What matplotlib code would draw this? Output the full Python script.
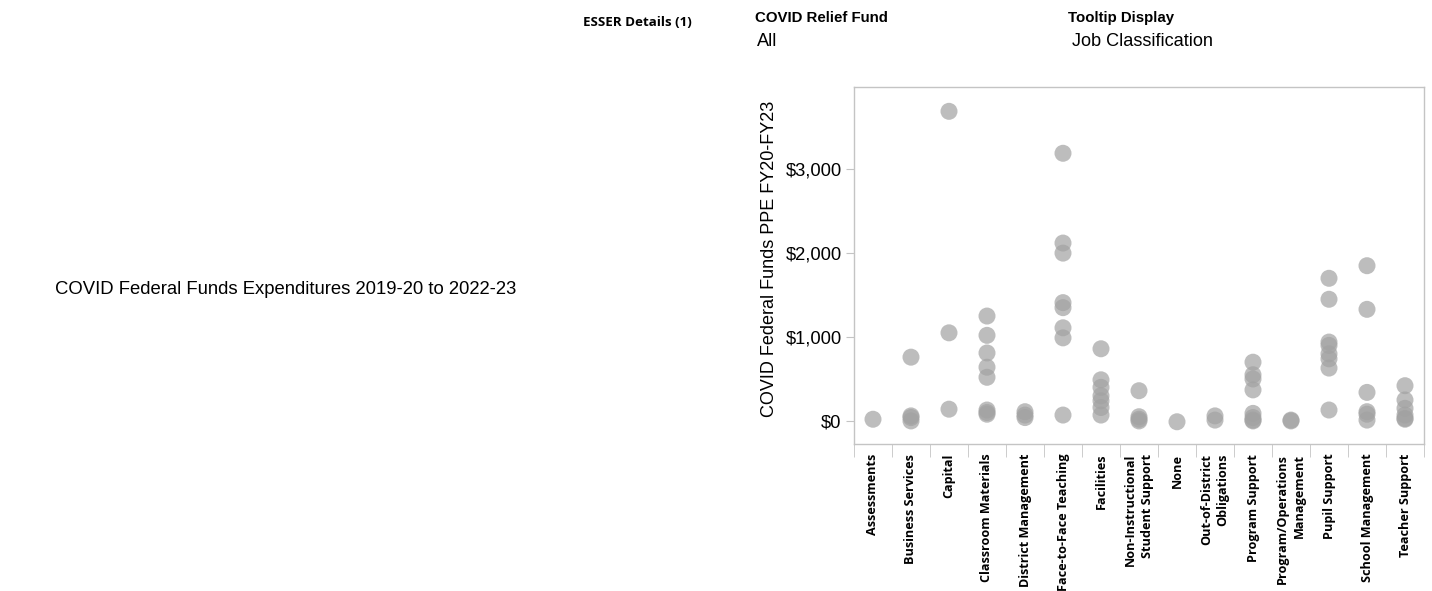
import matplotlib
matplotlib.use("Agg")
import matplotlib.pyplot as plt
import numpy as np

categories = ["Assessments", "Business Services", "Capital", "Classroom Materials",
              "District Management", "Face-to-Face Teaching", "Facilities",
              "Non-Instructional\nStudent Support", "None", "Out-of-District\nObligations",
              "Program Support", "Program/Operations\nManagement", "Pupil Support",
              "School Management", "Teacher Support"]

values = [
    [20],
    [760, 60, 40, 0],
    [3690, 1050, 140],
    [1250, 1020, 810, 640, 520, 130, 100, 80],
    [110, 70, 40],
    [3190, 2120, 2000, 1410, 1350, 1110, 990, 70],
    [860, 490, 400, 300, 240, 160, 70],
    [360, 50, 20, 0],
    [-10],
    [60, 10],
    [700, 550, 500, 370, 90, 40, 10, 0],
    [10, 0],
    [1700, 1450, 940, 900, 800, 740, 630, 130],
    [1850, 1330, 340, 110, 80, 10],
    [420, 250, 150, 70, 30, 20],
]

yticks = [0, 1000, 2000, 3000]
ytick_labels = ["$0", "$1,000", "$2,000", "$3,000"]

W, H = 1432, 591
fig = plt.figure(figsize=(W / 100, H / 100), dpi=100)

ax = fig.add_axes([854 / W, (H - 444) / H, 570 / W, (444 - 87) / H])

for i, vals in enumerate(values):
    ax.scatter([i] * len(vals), vals, s=150, color="#a2a2a2", alpha=0.7,
               edgecolors="none", zorder=3)

ax.set_xlim(-0.5, len(categories) - 0.5)
ax.set_ylim(-275, 3980)

for sp in ax.spines.values():
    sp.set_color("#c4c4c4")
    sp.set_linewidth(1.0)

ax.set_yticks(yticks)
ax.set_yticklabels(ytick_labels, fontfamily="Liberation Sans", fontsize=13.2)
ax.tick_params(axis="y", length=6, color="#c4c4c4", pad=3)

ax.set_xticks(np.arange(len(categories)))
ax.set_xticklabels(categories, rotation=90, fontfamily="Open Sans",
                   fontweight="bold", fontsize=9.1, ha="center", va="top",
                   multialignment="right", linespacing=1.35)
ax.tick_params(axis="x", length=0, pad=7)
ax.set_xticks(np.arange(-0.5, len(categories)), minor=True)
ax.tick_params(axis="x", which="minor", length=9, color="#c4c4c4")

fig.text(770 / W, 1 - 258.5 / H, "COVID Federal Funds PPE FY20-FY23",
         fontfamily="Liberation Sans", fontsize=13, rotation=90,
         ha="center", va="center")

fig.text(55 / W, 1 - 294 / H, "COVID Federal Funds Expenditures 2019-20 to 2022-23",
         fontfamily="Liberation Sans", fontsize=13.3, va="baseline", ha="left")

fig.text(583 / W, 1 - 26 / H, "ESSER Details (1)", fontfamily="Open Sans",
         fontweight="bold", fontsize=9.6, va="baseline", ha="left")
fig.text(755 / W, 1 - 22 / H, "COVID Relief Fund", fontfamily="Liberation Sans",
         fontweight="bold", fontsize=10.8, va="baseline", ha="left")
fig.text(757 / W, 1 - 46 / H, "All", fontfamily="Liberation Sans",
         fontsize=13.1, va="baseline", ha="left")
fig.text(1068 / W, 1 - 22 / H, "Tooltip Display", fontfamily="Liberation Sans",
         fontweight="bold", fontsize=10.8, va="baseline", ha="left")
fig.text(1072 / W, 1 - 46 / H, "Job Classification", fontfamily="Liberation Sans",
         fontsize=13.1, va="baseline", ha="left")

fig.savefig("out.png", dpi=100)
